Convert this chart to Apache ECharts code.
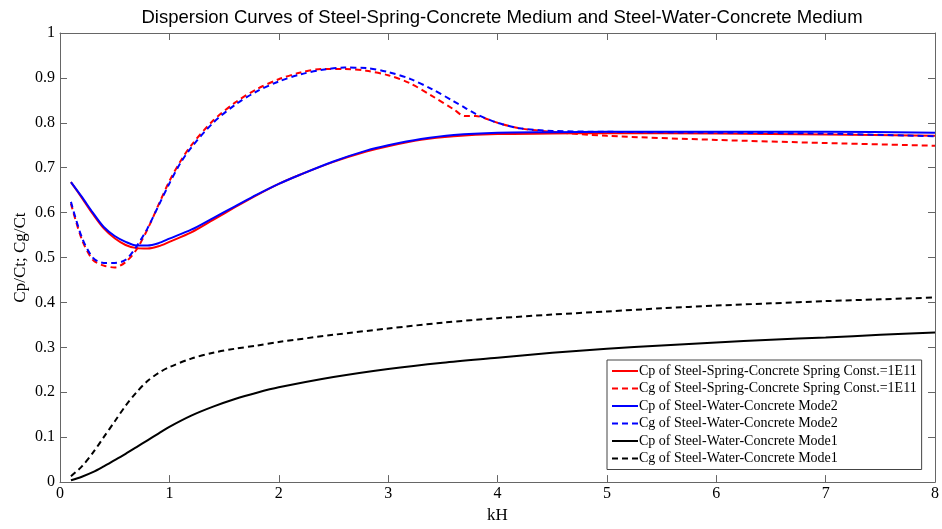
<!DOCTYPE html>
<html><head><meta charset="utf-8">
<script src="https://cdn.jsdelivr.net/npm/echarts@6/dist/echarts.min.js"></script>
<style>html,body{margin:0;padding:0;background:#fff}#c{width:942px;height:529px}</style>
</head><body><div id="c"></div>
<script>
const seriesNames = [
  'Cp of Steel-Spring-Concrete Spring Const.=1E11',
  'Cg of Steel-Spring-Concrete Spring Const.=1E11',
  'Cp of Steel-Water-Concrete Mode2',
  'Cg of Steel-Water-Concrete Mode2',
  'Cp of Steel-Water-Concrete Mode1',
  'Cg of Steel-Water-Concrete Mode1'
];
const xCp2 = [0.1,0.2,0.3,0.4,0.5,0.6,0.7,0.8,0.9,1.0,1.2,1.4,1.6,1.8,2.0,2.2,2.5,2.8,3.0,3.3,3.6,4.0,4.5,5,6,7,8];
const springCp = [0.668,0.633,0.597,0.565,0.543,0.528,0.521,0.520,0.525,0.535,0.556,0.584,0.612,0.639,0.664,0.685,0.713,0.736,0.748,0.762,0.770,0.775,0.776,0.777,0.776,0.774,0.771];
const waterCp2 = [0.668,0.635,0.600,0.568,0.548,0.535,0.527,0.527,0.532,0.542,0.562,0.588,0.614,0.640,0.664,0.685,0.714,0.738,0.750,0.764,0.773,0.778,0.779,0.780,0.780,0.780,0.778];
const xCg2 = [0.1,0.2,0.3,0.4,0.5,0.6,0.7,0.8,0.9,1.0,1.1,1.2,1.4,1.6,1.8,2.0,2.2,2.4,2.6,2.8,3.0,3.2,3.4,3.6,3.7,3.8,4.0,4.2,4.5,5,6,7,8];
const springCg = [0.620,0.540,0.495,0.482,0.478,0.490,0.518,0.563,0.617,0.670,0.714,0.750,0.805,0.845,0.875,0.897,0.912,0.920,0.920,0.916,0.906,0.888,0.860,0.830,0.815,0.815,0.800,0.788,0.780,0.771,0.762,0.755,0.749];
const waterCg2 = [0.624,0.545,0.500,0.488,0.488,0.495,0.525,0.565,0.615,0.665,0.710,0.745,0.800,0.840,0.870,0.892,0.908,0.918,0.923,0.922,0.913,0.898,0.875,0.848,0.834,0.820,0.800,0.788,0.782,0.780,0.778,0.776,0.770];
const xM1 = [0.1,0.2,0.3,0.4,0.5,0.6,0.7,0.8,0.9,1.0,1.2,1.4,1.6,1.8,2.0,2.5,3.0,3.5,4.0,4.5,5,5.5,6,6.5,7,7.5,8];
const waterCp1 = [0.004,0.012,0.022,0.035,0.049,0.063,0.078,0.093,0.108,0.123,0.148,0.168,0.185,0.199,0.211,0.234,0.252,0.266,0.277,0.288,0.297,0.304,0.311,0.317,0.322,0.328,0.333];
const waterCg1 = [0.013,0.035,0.065,0.100,0.135,0.170,0.200,0.225,0.243,0.256,0.275,0.288,0.297,0.304,0.312,0.328,0.342,0.355,0.365,0.373,0.380,0.387,0.393,0.398,0.403,0.407,0.411];
const xTicks = [0,1,2,3,4,5,6,7,8];
const yTicks = [0,0.1,0.2,0.3,0.4,0.5,0.6,0.7,0.8,0.9,1];

function pairs(xs, ys){ return xs.map((x,i)=>[x, ys[i]]); }
function mk(name, xs, ys, color, dashed){
  return {name, type:'line', data:pairs(xs,ys), showSymbol:false, symbol:'none', smooth:0.3,
    lineStyle:{color, width:2, type: dashed ? [6,4] : 'solid'}, itemStyle:{color, opacity:0}, animation:false, z: 2};
}
const serif = 'Liberation Serif';
const axisCol = '#666';
const chart = echarts.init(document.getElementById('c'));
chart.setOption({
  animation:false,
  backgroundColor:'#fff',
  title:{text:'Dispersion Curves of Steel-Spring-Concrete Medium and Steel-Water-Concrete Medium',
    left:497, textAlign:'center', top:3, textStyle:{fontFamily:'Liberation Sans', fontSize:18.5, fontWeight:'normal', color:'#000'}},
  grid:{left:60, top:33, right:7, bottom:43, containLabel:false},
  legend:{orient:'vertical', left:607, top:360, padding:[4,5,4,4], itemGap:3.5, itemWidth:26, itemHeight:14,
    backgroundColor:'#fff', borderColor:'#444', borderWidth:1, itemStyle:{opacity:0},
    textStyle:{fontFamily:serif, fontSize:14, color:'#000', padding:[0,0,0,-4]}, data:seriesNames},
  xAxis:[{type:'value', min:0, max:8, interval:1, name:'kH', nameLocation:'middle', nameGap:22,
      nameTextStyle:{fontFamily:serif, fontSize:17, color:'#000'},
      axisLine:{onZero:false, lineStyle:{color:axisCol}}, axisTick:{inside:true, length:7, lineStyle:{color:axisCol}},
      axisLabel:{fontFamily:serif, fontSize:16, color:'#000', margin:4, formatter:v=>xTicks.includes(v)?String(v):''},
      splitLine:{show:false}},
    {type:'value', position:'top', min:0, max:8, interval:1, axisLine:{show:true, onZero:false, lineStyle:{color:axisCol}},
      axisTick:{show:true, inside:true, length:7, lineStyle:{color:axisCol}}, axisLabel:{show:false}, splitLine:{show:false}}],
  yAxis:[{type:'value', min:0, max:1, interval:0.1, name:'Cp/Ct; Cg/Ct', nameLocation:'middle', nameGap:31, nameMoveOverlap:false,
      nameTextStyle:{fontFamily:serif, fontSize:17, color:'#000'},
      axisLine:{show:true, onZero:false, lineStyle:{color:axisCol}}, axisTick:{show:true, inside:true, length:7, lineStyle:{color:axisCol}},
      axisLabel:{fontFamily:serif, fontSize:16, color:'#000', margin:5, formatter:v=>{const t=yTicks.find(k=>Math.abs(k-v)<1e-9); return t===undefined?'':String(t);}},
      splitLine:{show:false}},
    {type:'value', position:'right', min:0, max:1, interval:0.1, axisLine:{show:true, onZero:false, lineStyle:{color:axisCol}},
      axisTick:{show:true, inside:true, length:7, lineStyle:{color:axisCol}}, axisLabel:{show:false}, splitLine:{show:false}}],
  series:[
    mk(seriesNames[0], xCp2, springCp, '#ff0000', false),
    mk(seriesNames[1], xCg2, springCg, '#ff0000', true),
    mk(seriesNames[2], xCp2, waterCp2, '#0000ff', false),
    mk(seriesNames[3], xCg2, waterCg2, '#0000ff', true),
    mk(seriesNames[4], xM1, waterCp1, '#000000', false),
    mk(seriesNames[5], xM1, waterCg1, '#000000', true)
  ]
});
</script></body></html>
